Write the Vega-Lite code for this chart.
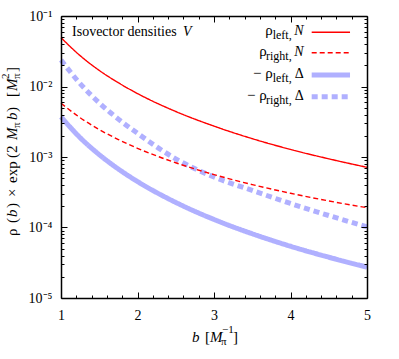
{
  "$schema": "https://vega.github.io/schema/vega-lite/v6.json",
  "width": 306,
  "height": 282,
  "autosize": "none",
  "padding": {"left": 61, "top": 16, "right": 32, "bottom": 61},
  "background": "white",
  "config": {"view": {"stroke": null}, "font": "Liberation Serif"},
  "resolve": {"axis": {"x": "independent", "y": "independent"}},
  "layer": [
    {
      "data": {"values": [
        {"s": "-rho_right Delta", "b": 1, "v": 0.0238},
        {"s": "-rho_right Delta", "b": 1.25, "v": 0.0110},
        {"s": "-rho_right Delta", "b": 1.5, "v": 0.00586},
        {"s": "-rho_right Delta", "b": 1.75, "v": 0.00345},
        {"s": "-rho_right Delta", "b": 2, "v": 0.00217},
        {"s": "-rho_right Delta", "b": 2.5, "v": 0.00094},
        {"s": "-rho_right Delta", "b": 3, "v": 0.00052},
        {"s": "-rho_right Delta", "b": 3.5, "v": 0.000335},
        {"s": "-rho_right Delta", "b": 4, "v": 0.000219},
        {"s": "-rho_right Delta", "b": 4.5, "v": 0.000148},
        {"s": "-rho_right Delta", "b": 5, "v": 0.000102},
        {"s": "-rho_left Delta", "b": 1, "v": 0.00372},
        {"s": "-rho_left Delta", "b": 1.25, "v": 0.00188},
        {"s": "-rho_left Delta", "b": 1.5, "v": 0.00108},
        {"s": "-rho_left Delta", "b": 1.75, "v": 0.000675},
        {"s": "-rho_left Delta", "b": 2, "v": 0.000449},
        {"s": "-rho_left Delta", "b": 2.5, "v": 0.000227},
        {"s": "-rho_left Delta", "b": 3, "v": 0.00013},
        {"s": "-rho_left Delta", "b": 3.5, "v": 0.0000815},
        {"s": "-rho_left Delta", "b": 4, "v": 0.0000542},
        {"s": "-rho_left Delta", "b": 4.5, "v": 0.0000379},
        {"s": "-rho_left Delta", "b": 5, "v": 0.0000274},
        {"s": "rho_right N", "b": 1, "v": 0.00578},
        {"s": "rho_right N", "b": 1.25, "v": 0.00361},
        {"s": "rho_right N", "b": 1.5, "v": 0.00245},
        {"s": "rho_right N", "b": 1.75, "v": 0.00177},
        {"s": "rho_right N", "b": 2, "v": 0.00133},
        {"s": "rho_right N", "b": 2.5, "v": 0.000828},
        {"s": "rho_right N", "b": 3, "v": 0.000563},
        {"s": "rho_right N", "b": 3.5, "v": 0.000406},
        {"s": "rho_right N", "b": 4, "v": 0.000306},
        {"s": "rho_right N", "b": 4.5, "v": 0.000238},
        {"s": "rho_right N", "b": 5, "v": 0.000191},
        {"s": "rho_left N", "b": 1, "v": 0.0492},
        {"s": "rho_left N", "b": 1.25, "v": 0.0274},
        {"s": "rho_left N", "b": 1.5, "v": 0.0169},
        {"s": "rho_left N", "b": 1.75, "v": 0.0113},
        {"s": "rho_left N", "b": 2, "v": 0.00794},
        {"s": "rho_left N", "b": 2.5, "v": 0.00442},
        {"s": "rho_left N", "b": 3, "v": 0.00274},
        {"s": "rho_left N", "b": 3.5, "v": 0.00182},
        {"s": "rho_left N", "b": 4, "v": 0.00128},
        {"s": "rho_left N", "b": 4.5, "v": 0.000942},
        {"s": "rho_left N", "b": 5, "v": 0.000714}
      ]},
      "mark": {"type": "line", "interpolate": "monotone"},
      "encoding": {
        "x": {"field": "b", "type": "quantitative",
          "scale": {"domain": [1, 5], "nice": false, "zero": false},
          "axis": {"orient": "bottom", "title": null, "grid": false, "zindex": 1,
            "values": [1, 1.2, 1.4, 1.6, 1.8, 2, 2.2, 2.4, 2.6, 2.8, 3, 3.2, 3.4, 3.6, 3.8, 4, 4.2, 4.4, 4.6, 4.8, 5],
            "labelExpr": "abs(datum.value - round(datum.value)) < 0.01 ? format(datum.value, 'd') : ''",
            "tickSize": {"condition": {"test": "abs(datum.value - round(datum.value)) < 0.01", "value": -6}, "value": -3},
            "labelPadding": 16, "labelFontSize": 14, "labelFont": "Liberation Serif", "labelColor": "black",
            "labelFlush": false, "labelOverlap": false,
            "domainColor": "black", "domainWidth": 1.5, "tickColor": "black", "tickWidth": 1}},
        "y": {"field": "v", "type": "quantitative",
          "scale": {"type": "log", "domain": [0.00001, 0.1], "nice": false},
          "axis": {"orient": "left", "title": null, "grid": false, "zindex": 1,
            "values": [0.00001, 0.00002, 0.00003, 0.00004, 0.00005, 0.00006, 0.00007, 0.00008, 0.00009,
                       0.0001, 0.0002, 0.0003, 0.0004, 0.0005, 0.0006, 0.0007, 0.0008, 0.0009,
                       0.001, 0.002, 0.003, 0.004, 0.005, 0.006, 0.007, 0.008, 0.009,
                       0.01, 0.02, 0.03, 0.04, 0.05, 0.06, 0.07, 0.08, 0.09, 0.1],
            "labelExpr": "abs(log(datum.value)/LN10 - round(log(datum.value)/LN10)) < 0.01 ? '10' + ['⁰','⁻¹','⁻²','⁻³','⁻⁴','⁻⁵'][-round(log(datum.value)/LN10)] : ''",
            "tickSize": {"condition": {"test": "abs(log(datum.value)/LN10 - round(log(datum.value)/LN10)) < 0.01", "value": -6}, "value": -3},
            "labelPadding": 15, "labelFontSize": 14, "labelFont": "Liberation Serif", "labelColor": "black",
            "labelBaseline": "middle", "labelFlush": false, "labelOverlap": false,
            "domainColor": "black", "domainWidth": 1.5, "tickColor": "black", "tickWidth": 1}},
        "color": {"field": "s", "type": "nominal", "legend": null,
          "scale": {"domain": ["-rho_right Delta", "-rho_left Delta", "rho_right N", "rho_left N"],
                    "range": ["#b0b0ff", "#b0b0ff", "#ff0000", "#ff0000"]}},
        "strokeDash": {"field": "s", "type": "nominal", "legend": null,
          "scale": {"type": "ordinal", "domain": ["-rho_right Delta", "-rho_left Delta", "rho_right N", "rho_left N"],
                    "range": [[6, 4], [1, 0], [5, 3], [1, 0]]}},
        "strokeWidth": {"field": "s", "type": "nominal", "legend": null,
          "scale": {"type": "ordinal", "domain": ["-rho_right Delta", "-rho_left Delta", "rho_right N", "rho_left N"],
                    "range": [5, 5, 1.4, 1.4]}}
      }
    },
    {
      "data": {"values": [{"b": 3, "v": 0.001}]},
      "mark": {"type": "point", "opacity": 0},
      "encoding": {
        "x": {"field": "b", "type": "quantitative",
          "axis": {"orient": "top", "title": null, "grid": false, "labels": false, "zindex": 1,
            "values": [1, 1.2, 1.4, 1.6, 1.8, 2, 2.2, 2.4, 2.6, 2.8, 3, 3.2, 3.4, 3.6, 3.8, 4, 4.2, 4.4, 4.6, 4.8, 5],
            "tickSize": {"condition": {"test": "abs(datum.value - round(datum.value)) < 0.01", "value": -6}, "value": -3},
            "domainColor": "black", "domainWidth": 1.5, "tickColor": "black", "tickWidth": 1}},
        "y": {"field": "v", "type": "quantitative",
          "axis": {"orient": "right", "title": null, "grid": false, "labels": false, "zindex": 1,
            "values": [0.00001, 0.00002, 0.00003, 0.00004, 0.00005, 0.00006, 0.00007, 0.00008, 0.00009,
                       0.0001, 0.0002, 0.0003, 0.0004, 0.0005, 0.0006, 0.0007, 0.0008, 0.0009,
                       0.001, 0.002, 0.003, 0.004, 0.005, 0.006, 0.007, 0.008, 0.009,
                       0.01, 0.02, 0.03, 0.04, 0.05, 0.06, 0.07, 0.08, 0.09, 0.1],
            "tickSize": {"condition": {"test": "abs(log(datum.value)/LN10 - round(log(datum.value)/LN10)) < 0.01", "value": -6}, "value": -3},
            "domainColor": "black", "domainWidth": 1.5, "tickColor": "black", "tickWidth": 1}}
      }
    },
    {"data": {"values": [{}]}, "mark": {"type": "text", "text": "Isovector densities", "font": "Liberation Serif", "fontSize": 14, "align": "left", "baseline": "alphabetic", "color": "black"},
     "encoding": {"x": {"datum": 1.144, "axis": null}, "y": {"datum": 0.052, "axis": null}}},
    {"data": {"values": [{}]}, "mark": {"type": "text", "text": "V", "font": "Liberation Serif", "fontSize": 14, "fontStyle": "italic", "align": "left", "baseline": "alphabetic", "color": "black"},
     "encoding": {"x": {"datum": 2.595, "axis": null}, "y": {"datum": 0.052, "axis": null}}},

    {"data": {"values": [{}]}, "mark": {"type": "rule", "color": "#ff0000", "strokeWidth": 1.4},
     "encoding": {"x": {"datum": 4.277, "axis": null}, "x2": {"datum": 4.778}, "y": {"datum": 0.0587, "axis": null}}},
    {"data": {"values": [{}]}, "mark": {"type": "rule", "color": "#ff0000", "strokeWidth": 1.4, "strokeDash": [5, 3]},
     "encoding": {"x": {"datum": 4.277, "axis": null}, "x2": {"datum": 4.778}, "y": {"datum": 0.0301, "axis": null}}},
    {"data": {"values": [{}]}, "mark": {"type": "rule", "color": "#b0b0ff", "strokeWidth": 5},
     "encoding": {"x": {"datum": 4.277, "axis": null}, "x2": {"datum": 4.778}, "y": {"datum": 0.01455, "axis": null}}},
    {"data": {"values": [{}]}, "mark": {"type": "rule", "color": "#b0b0ff", "strokeWidth": 5, "strokeDash": [6, 4]},
     "encoding": {"x": {"datum": 4.277, "axis": null}, "x2": {"datum": 4.778}, "y": {"datum": 0.00716, "axis": null}}},

    {"data": {"values": [{}]}, "mark": {"type": "text", "text": "N", "font": "Liberation Serif", "fontSize": 14, "fontStyle": "italic", "align": "right", "baseline": "alphabetic", "dx": -8, "dy": 3, "color": "black"},
     "encoding": {"x": {"datum": 4.277, "axis": null}, "y": {"datum": 0.0587, "axis": null}}},
    {"data": {"values": [{}]}, "mark": {"type": "text", "text": "left,", "font": "Liberation Serif", "fontSize": 12, "align": "right", "baseline": "alphabetic", "dx": -20, "dy": 7, "color": "black"},
     "encoding": {"x": {"datum": 4.277, "axis": null}, "y": {"datum": 0.0587, "axis": null}}},
    {"data": {"values": [{}]}, "mark": {"type": "text", "text": "ρ", "font": "Liberation Serif", "fontSize": 15, "align": "right", "baseline": "alphabetic", "dx": -39, "dy": 3, "color": "black"},
     "encoding": {"x": {"datum": 4.277, "axis": null}, "y": {"datum": 0.0587, "axis": null}}},

    {"data": {"values": [{}]}, "mark": {"type": "text", "text": "N", "font": "Liberation Serif", "fontSize": 14, "fontStyle": "italic", "align": "right", "baseline": "alphabetic", "dx": -8, "dy": 3, "color": "black"},
     "encoding": {"x": {"datum": 4.277, "axis": null}, "y": {"datum": 0.0301, "axis": null}}},
    {"data": {"values": [{}]}, "mark": {"type": "text", "text": "right,", "font": "Liberation Serif", "fontSize": 12, "align": "right", "baseline": "alphabetic", "dx": -20, "dy": 7, "color": "black"},
     "encoding": {"x": {"datum": 4.277, "axis": null}, "y": {"datum": 0.0301, "axis": null}}},
    {"data": {"values": [{}]}, "mark": {"type": "text", "text": "ρ", "font": "Liberation Serif", "fontSize": 15, "align": "right", "baseline": "alphabetic", "dx": -45, "dy": 3, "color": "black"},
     "encoding": {"x": {"datum": 4.277, "axis": null}, "y": {"datum": 0.0301, "axis": null}}},

    {"data": {"values": [{}]}, "mark": {"type": "text", "text": "Δ", "font": "Liberation Serif", "fontSize": 14, "align": "right", "baseline": "alphabetic", "dx": -8, "dy": 3, "color": "black"},
     "encoding": {"x": {"datum": 4.277, "axis": null}, "y": {"datum": 0.01455, "axis": null}}},
    {"data": {"values": [{}]}, "mark": {"type": "text", "text": "left,", "font": "Liberation Serif", "fontSize": 12, "align": "right", "baseline": "alphabetic", "dx": -20, "dy": 7, "color": "black"},
     "encoding": {"x": {"datum": 4.277, "axis": null}, "y": {"datum": 0.01455, "axis": null}}},
    {"data": {"values": [{}]}, "mark": {"type": "text", "text": "− ρ", "font": "Liberation Serif", "fontSize": 15, "align": "right", "baseline": "alphabetic", "dx": -39, "dy": 3, "color": "black"},
     "encoding": {"x": {"datum": 4.277, "axis": null}, "y": {"datum": 0.01455, "axis": null}}},

    {"data": {"values": [{}]}, "mark": {"type": "text", "text": "Δ", "font": "Liberation Serif", "fontSize": 14, "align": "right", "baseline": "alphabetic", "dx": -8, "dy": 3, "color": "black"},
     "encoding": {"x": {"datum": 4.277, "axis": null}, "y": {"datum": 0.00716, "axis": null}}},
    {"data": {"values": [{}]}, "mark": {"type": "text", "text": "right,", "font": "Liberation Serif", "fontSize": 12, "align": "right", "baseline": "alphabetic", "dx": -20, "dy": 7, "color": "black"},
     "encoding": {"x": {"datum": 4.277, "axis": null}, "y": {"datum": 0.00716, "axis": null}}},
    {"data": {"values": [{}]}, "mark": {"type": "text", "text": "− ρ", "font": "Liberation Serif", "fontSize": 15, "align": "right", "baseline": "alphabetic", "dx": -45, "dy": 3, "color": "black"},
     "encoding": {"x": {"datum": 4.277, "axis": null}, "y": {"datum": 0.00716, "axis": null}}},

    {"data": {"values": [{}]}, "mark": {"type": "text", "text": "b", "font": "Liberation Serif", "fontSize": 15, "fontStyle": "italic", "align": "left", "baseline": "alphabetic", "dx": 0, "dy": 44, "color": "black"},
     "encoding": {"x": {"datum": 2.712, "axis": null}, "y": {"datum": 0.00001, "axis": null}}},
    {"data": {"values": [{}]}, "mark": {"type": "text", "text": "[", "font": "Liberation Serif", "fontSize": 15, "align": "left", "baseline": "alphabetic", "dx": 13, "dy": 44, "color": "black"},
     "encoding": {"x": {"datum": 2.712, "axis": null}, "y": {"datum": 0.00001, "axis": null}}},
    {"data": {"values": [{}]}, "mark": {"type": "text", "text": "M", "font": "Liberation Serif", "fontSize": 15, "fontStyle": "italic", "align": "left", "baseline": "alphabetic", "dx": 18, "dy": 44, "color": "black"},
     "encoding": {"x": {"datum": 2.712, "axis": null}, "y": {"datum": 0.00001, "axis": null}}},
    {"data": {"values": [{}]}, "mark": {"type": "text", "text": "π", "font": "Liberation Serif", "fontSize": 11, "align": "left", "baseline": "alphabetic", "dx": 29, "dy": 47, "color": "black"},
     "encoding": {"x": {"datum": 2.712, "axis": null}, "y": {"datum": 0.00001, "axis": null}}},
    {"data": {"values": [{}]}, "mark": {"type": "text", "text": "−1", "font": "Liberation Serif", "fontSize": 11, "align": "left", "baseline": "alphabetic", "dx": 30, "dy": 35, "color": "black"},
     "encoding": {"x": {"datum": 2.712, "axis": null}, "y": {"datum": 0.00001, "axis": null}}},
    {"data": {"values": [{}]}, "mark": {"type": "text", "text": "]", "font": "Liberation Serif", "fontSize": 15, "align": "left", "baseline": "alphabetic", "dx": 41, "dy": 44, "color": "black"},
     "encoding": {"x": {"datum": 2.712, "axis": null}, "y": {"datum": 0.00001, "axis": null}}},

    {"data": {"values": [{}]}, "mark": {"type": "text", "text": "ρ", "font": "Liberation Serif", "fontSize": 15, "angle": 270, "align": "left", "baseline": "alphabetic", "dx": 0, "dy": 0, "color": "black"},
     "encoding": {"x": {"datum": 0.425, "axis": null}, "y": {"datum": 0.0000757, "axis": null}}},
    {"data": {"values": [{}]}, "mark": {"type": "text", "text": "(", "font": "Liberation Serif", "fontSize": 15, "angle": 270, "align": "left", "baseline": "alphabetic", "dx": 13, "dy": 0, "color": "black"},
     "encoding": {"x": {"datum": 0.425, "axis": null}, "y": {"datum": 0.0000757, "axis": null}}},
    {"data": {"values": [{}]}, "mark": {"type": "text", "text": "b", "font": "Liberation Serif", "fontSize": 15, "fontStyle": "italic", "angle": 270, "align": "left", "baseline": "alphabetic", "dx": 19, "dy": 0, "color": "black"},
     "encoding": {"x": {"datum": 0.425, "axis": null}, "y": {"datum": 0.0000757, "axis": null}}},
    {"data": {"values": [{}]}, "mark": {"type": "text", "text": ")", "font": "Liberation Serif", "fontSize": 15, "angle": 270, "align": "left", "baseline": "alphabetic", "dx": 28, "dy": 0, "color": "black"},
     "encoding": {"x": {"datum": 0.425, "axis": null}, "y": {"datum": 0.0000757, "axis": null}}},
    {"data": {"values": [{}]}, "mark": {"type": "text", "text": "×", "font": "Liberation Serif", "fontSize": 15, "angle": 270, "align": "left", "baseline": "alphabetic", "dx": 39, "dy": 0, "color": "black"},
     "encoding": {"x": {"datum": 0.425, "axis": null}, "y": {"datum": 0.0000757, "axis": null}}},
    {"data": {"values": [{}]}, "mark": {"type": "text", "text": "exp", "font": "Liberation Serif", "fontSize": 15, "angle": 270, "align": "left", "baseline": "alphabetic", "dx": 53, "dy": 0, "color": "black"},
     "encoding": {"x": {"datum": 0.425, "axis": null}, "y": {"datum": 0.0000757, "axis": null}}},
    {"data": {"values": [{}]}, "mark": {"type": "text", "text": "(2", "font": "Liberation Serif", "fontSize": 15, "angle": 270, "align": "left", "baseline": "alphabetic", "dx": 78, "dy": 0, "color": "black"},
     "encoding": {"x": {"datum": 0.425, "axis": null}, "y": {"datum": 0.0000757, "axis": null}}},
    {"data": {"values": [{}]}, "mark": {"type": "text", "text": "M", "font": "Liberation Serif", "fontSize": 15, "fontStyle": "italic", "angle": 270, "align": "left", "baseline": "alphabetic", "dx": 96, "dy": 0, "color": "black"},
     "encoding": {"x": {"datum": 0.425, "axis": null}, "y": {"datum": 0.0000757, "axis": null}}},
    {"data": {"values": [{}]}, "mark": {"type": "text", "text": "π", "font": "Liberation Serif", "fontSize": 11, "angle": 270, "align": "left", "baseline": "alphabetic", "dx": 108, "dy": 3, "color": "black"},
     "encoding": {"x": {"datum": 0.425, "axis": null}, "y": {"datum": 0.0000757, "axis": null}}},
    {"data": {"values": [{}]}, "mark": {"type": "text", "text": "b", "font": "Liberation Serif", "fontSize": 15, "fontStyle": "italic", "angle": 270, "align": "left", "baseline": "alphabetic", "dx": 116, "dy": 0, "color": "black"},
     "encoding": {"x": {"datum": 0.425, "axis": null}, "y": {"datum": 0.0000757, "axis": null}}},
    {"data": {"values": [{}]}, "mark": {"type": "text", "text": ")", "font": "Liberation Serif", "fontSize": 15, "angle": 270, "align": "left", "baseline": "alphabetic", "dx": 124, "dy": 0, "color": "black"},
     "encoding": {"x": {"datum": 0.425, "axis": null}, "y": {"datum": 0.0000757, "axis": null}}},
    {"data": {"values": [{}]}, "mark": {"type": "text", "text": "[", "font": "Liberation Serif", "fontSize": 15, "angle": 270, "align": "left", "baseline": "alphabetic", "dx": 139, "dy": 0, "color": "black"},
     "encoding": {"x": {"datum": 0.425, "axis": null}, "y": {"datum": 0.0000757, "axis": null}}},
    {"data": {"values": [{}]}, "mark": {"type": "text", "text": "M", "font": "Liberation Serif", "fontSize": 15, "fontStyle": "italic", "angle": 270, "align": "left", "baseline": "alphabetic", "dx": 145, "dy": 0, "color": "black"},
     "encoding": {"x": {"datum": 0.425, "axis": null}, "y": {"datum": 0.0000757, "axis": null}}},
    {"data": {"values": [{}]}, "mark": {"type": "text", "text": "π", "font": "Liberation Serif", "fontSize": 11, "angle": 270, "align": "left", "baseline": "alphabetic", "dx": 157, "dy": 3, "color": "black"},
     "encoding": {"x": {"datum": 0.425, "axis": null}, "y": {"datum": 0.0000757, "axis": null}}},
    {"data": {"values": [{}]}, "mark": {"type": "text", "text": "2", "font": "Liberation Serif", "fontSize": 11, "angle": 270, "align": "left", "baseline": "alphabetic", "dx": 157, "dy": -8, "color": "black"},
     "encoding": {"x": {"datum": 0.425, "axis": null}, "y": {"datum": 0.0000757, "axis": null}}},
    {"data": {"values": [{}]}, "mark": {"type": "text", "text": "]", "font": "Liberation Serif", "fontSize": 15, "angle": 270, "align": "left", "baseline": "alphabetic", "dx": 164, "dy": 0, "color": "black"},
     "encoding": {"x": {"datum": 0.425, "axis": null}, "y": {"datum": 0.0000757, "axis": null}}}
  ]
}
